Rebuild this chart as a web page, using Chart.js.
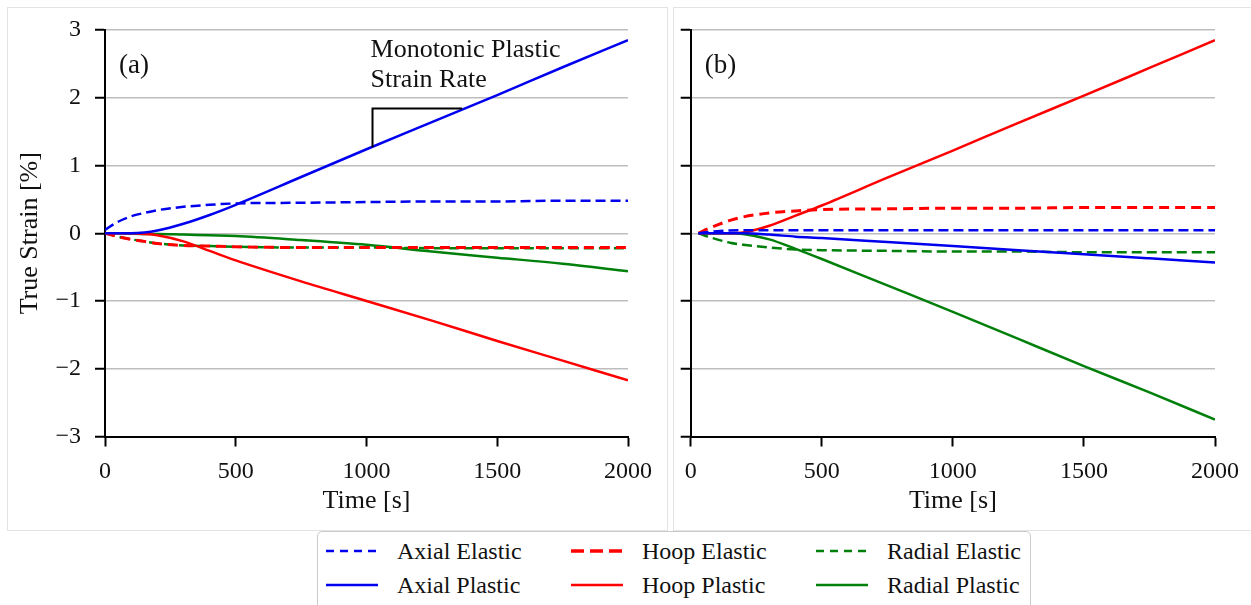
<!DOCTYPE html>
<html lang="en">
<head>
<meta charset="UTF-8">
<title>True Strain vs Time</title>
<script src="https://cdn.jsdelivr.net/npm/chart.js"></script>
<style>
  body { margin: 0; background: #fff; width: 1251px; height: 605px; overflow: hidden; position: relative; font-family: 'Liberation Serif', 'Times New Roman', serif; }
  .frame { position: absolute; top: 7px; height: 522px; border: 1px solid #e3e3e3; }
  #frameA { left: 7px; width: 659px; }
  #frameB { left: 673px; width: 600px; }
  .wrap { position: absolute; top: 0; }
  #wrapA { left: 0; }
  #wrapB { left: 672px; }
  #legend { position: absolute; left: 317px; top: 531px; width: 712px; height: 90px; border: 1px solid #cacaca; border-radius: 5px; background: #fff; }
  .item { position: absolute; height: 30px; }
  .item svg { position: absolute; left: 0; top: 0; }
  .item span { position: absolute; left: 71px; top: 0; line-height: 30px; font-size: 24px; color: #111; white-space: nowrap; }
</style>
</head>
<body>

<div class="frame" id="frameA"></div>
<div class="frame" id="frameB"></div>
<div class="wrap" id="wrapA"><canvas id="chartA" width="666" height="530"></canvas></div>
<div class="wrap" id="wrapB"><canvas id="chartB" width="579" height="530"></canvas></div>
<div id="legend"></div>

<script>
// ---- data (time in s, strain in %) ----
const timesA = [0, 50, 100, 150, 200, 300, 400, 500, 750, 1000, 1250, 1500, 1750, 2000];
const axialElasticA  = [0.05, 0.17, 0.25, 0.30, 0.34, 0.39, 0.42, 0.44, 0.45, 0.46, 0.47, 0.47, 0.48, 0.48];
const axialPlasticA  = [0, 0, 0, 0.01, 0.04, 0.14, 0.27, 0.42, 0.83, 1.24, 1.64, 2.04, 2.45, 2.85];
const hoopElasticA   = [0, -0.05, -0.09, -0.12, -0.15, -0.18, -0.19, -0.20, -0.21, -0.21, -0.21, -0.21, -0.21, -0.21];
const hoopPlasticA   = [0, 0, 0, -0.01, -0.03, -0.12, -0.26, -0.40, -0.71, -1.00, -1.29, -1.59, -1.88, -2.17];
const radialElasticA = [0, -0.05, -0.09, -0.12, -0.15, -0.18, -0.19, -0.20, -0.21, -0.21, -0.22, -0.22, -0.22, -0.22];
const radialPlasticA = [0, 0, -0.005, -0.01, -0.01, -0.02, -0.03, -0.04, -0.10, -0.17, -0.27, -0.36, -0.45, -0.56];

const timesB = [30, 50, 100, 150, 200, 300, 400, 500, 750, 1000, 1250, 1500, 1750, 2000];
const axialElasticB  = [0, 0.01, 0.03, 0.04, 0.045, 0.045, 0.045, 0.045, 0.045, 0.045, 0.045, 0.045, 0.045, 0.045];
const axialPlasticB  = [0, 0, 0, 0, 0, -0.02, -0.05, -0.07, -0.13, -0.19, -0.25, -0.31, -0.37, -0.43];
const hoopElasticB   = [0, 0.04, 0.12, 0.19, 0.24, 0.30, 0.33, 0.35, 0.36, 0.37, 0.37, 0.38, 0.38, 0.38];
const hoopPlasticB   = [0, 0, 0, 0, 0.01, 0.11, 0.26, 0.41, 0.82, 1.22, 1.63, 2.03, 2.44, 2.85];
const radialElasticB = [0, -0.03, -0.09, -0.14, -0.17, -0.21, -0.24, -0.25, -0.26, -0.27, -0.27, -0.28, -0.28, -0.28];
const radialPlasticB = [0, 0, 0, 0, -0.01, -0.09, -0.23, -0.38, -0.77, -1.16, -1.56, -1.96, -2.35, -2.75];

const seriesLabels = ['Axial Elastic', 'Axial Plastic', 'Hoop Elastic', 'Hoop Plastic', 'Radial Elastic', 'Radial Plastic'];
const seriesColors = ['#0000ee', '#0000ee', '#ff0000', '#ff0000', '#00800a', '#00800a'];
const seriesDash   = [[10, 5], [], [10, 6], [], [10, 5], []];
const seriesWidth  = [2.5, 2.5, 3, 2.5, 2.5, 2.5];

const yTicks = [-3, -2, -1, 0, 1, 2, 3];
const xTicks = [0, 500, 1000, 1500, 2000];

// slope marker on panel (a): corner points in data units
const slopeTri = { x: [1023, 1366], y: [1.27, 1.84] };

const serif = "'Liberation Serif', 'Times New Roman', serif";

function makeDatasets(times, cols) {
  return cols.map((vals, i) => ({
    label: seriesLabels[i],
    data: times.map((t, k) => ({ x: t, y: vals[k] })),
    borderColor: seriesColors[i],
    borderDash: seriesDash[i],
    borderWidth: seriesWidth[i],
    pointRadius: 0,
    fill: false,
    cubicInterpolationMode: 'monotone'
  }));
}

const orderA = [axialElasticA, axialPlasticA, hoopElasticA, hoopPlasticA, radialElasticA, radialPlasticA];
const orderB = [axialElasticB, axialPlasticB, hoopElasticB, hoopPlasticB, radialElasticB, radialPlasticB];

const panelText = {
  id: 'panelText',
  afterDatasetsDraw(chart, args, opts) {
    const ctx = chart.ctx;
    const a = chart.chartArea;
    ctx.save();
    ctx.fillStyle = '#111';
    ctx.font = '27px ' + serif;
    ctx.textBaseline = 'alphabetic';
    ctx.fillText(opts.label, a.left + 14, a.top + 43);
    if (opts.slope) {
      const xs = chart.scales.x, ys = chart.scales.y;
      const x0 = xs.getPixelForValue(slopeTri.x[0]);
      const x1 = xs.getPixelForValue(slopeTri.x[1]);
      const y0 = ys.getPixelForValue(slopeTri.y[0]);
      const y1 = ys.getPixelForValue(slopeTri.y[1]);
      ctx.strokeStyle = '#000';
      ctx.lineWidth = 2;
      ctx.beginPath();
      ctx.moveTo(x0, y0);
      ctx.lineTo(x0, y1);
      ctx.lineTo(x1, y1);
      ctx.stroke();
      ctx.font = '26px ' + serif;
      ctx.fillText('Monotonic Plastic', x0 - 2, ys.getPixelForValue(2.6));
      ctx.fillText('Strain Rate', x0 - 2, ys.getPixelForValue(2.16));
    }
    ctx.restore();
  }
};

function makeOptions(showY, yWidth, padRight, label, slope) {
  return {
    responsive: false,
    animation: false,
    layout: { padding: { top: 30, right: padRight, left: 0, bottom: 0 } },
    plugins: {
      legend: { display: false },
      tooltip: { enabled: false },
      panelText: { label: label, slope: slope }
    },
    scales: {
      x: {
        type: 'linear',
        min: 0, max: 2000,
        afterBuildTicks: s => { s.ticks = xTicks.map(v => ({ value: v })); },
        afterFit: s => { s.height = 93.5; },
        border: { color: '#000', width: 2 },
        grid: { drawOnChartArea: false, tickLength: 10, tickColor: '#000', tickWidth: 2 },
        ticks: { color: '#111', font: { family: serif, size: 24 }, padding: 11, maxRotation: 0, callback: v => String(v) },
        title: { display: true, text: 'Time [s]', color: '#111', font: { family: serif, size: 26 }, padding: { top: 0, bottom: 13 } }
      },
      y: {
        type: 'linear',
        min: -3, max: 3,
        afterBuildTicks: s => { s.ticks = yTicks.map(v => ({ value: v })); },
        afterFit: s => { s.width = yWidth; },
        border: { color: '#000', width: 2 },
        grid: { color: '#bdbdbd', lineWidth: 1.5, tickLength: 10, tickColor: '#000', tickWidth: 2 },
        ticks: {
          display: showY,
          color: '#111',
          font: { family: serif, size: 24 },
          padding: 14,
          callback: v => (v < 0 ? '\u2212' + Math.abs(v) : String(v))
        },
        title: { display: showY, text: 'True Strain [%]', color: '#111', font: { family: serif, size: 26 }, padding: { top: 15, bottom: 0 } }
      }
    }
  };
}

new Chart(document.getElementById('chartA'), {
  type: 'line',
  data: { datasets: makeDatasets(timesA, orderA) },
  options: makeOptions(true, 105, 38, '(a)', true),
  plugins: [panelText]
});

new Chart(document.getElementById('chartB'), {
  type: 'line',
  data: { datasets: makeDatasets(timesB, orderB) },
  options: makeOptions(false, 18.7, 36, '(b)', false),
  plugins: [panelText]
});

// shared legend below both panels, three columns x two rows
const legend = document.getElementById('legend');
const colX = [8, 253, 498];
const rowY = [4, 38];
seriesLabels.forEach((name, i) => {
  const col = Math.floor(i / 2), row = i % 2;
  const item = document.createElement('div');
  item.className = 'item';
  item.style.left = colX[col] + 'px';
  item.style.top = rowY[row] + 'px';
  const dash = seriesDash[i].length ? (i === 2 ? '13 6' : '8 6') : 'none';
  const w = i === 2 ? 3.5 : 2.5;
  item.innerHTML = '<svg width="54" height="30"><line x1="0" y1="15" x2="52" y2="15" stroke="' + seriesColors[i] +
    '" stroke-width="' + w + '" stroke-dasharray="' + dash + '"/></svg><span>' + name + '</span>';
  legend.appendChild(item);
});
</script>
</body>
</html>
